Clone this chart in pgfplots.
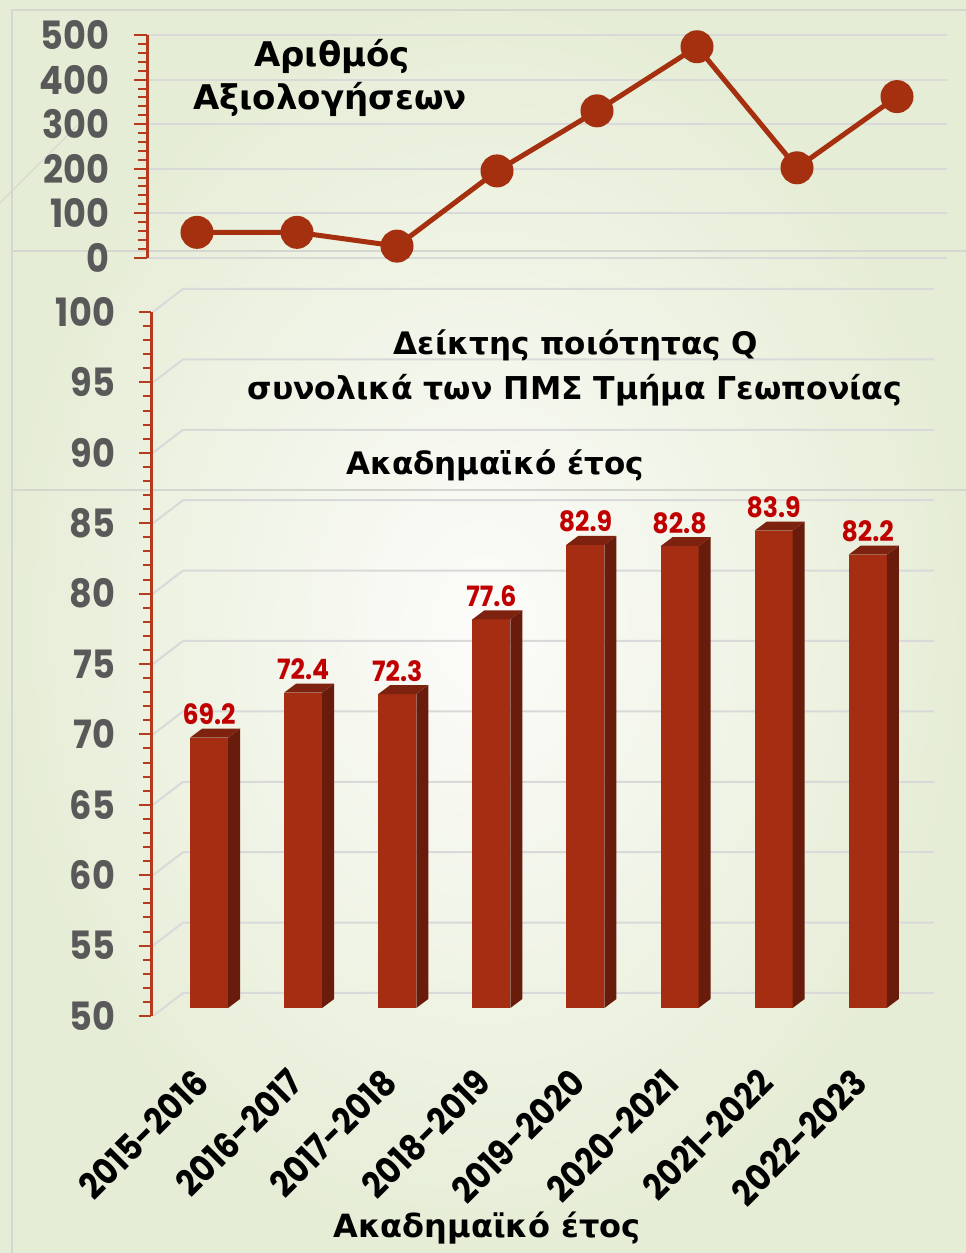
\documentclass[border=0pt]{standalone}
\usepackage{fontspec}
\setmainfont{DejaVu Sans}
\newfontfamily\numfont{Poppins}[FakeStretch=0.9]
\usepackage{pgfplots}
\usepackage{pgfplotstable}
\pgfplotsset{compat=1.18}

\definecolor{lineRed}{HTML}{A5300F}
\definecolor{axisRed}{HTML}{B83A1E}
\definecolor{barFront}{HTML}{A52E12}
\definecolor{barSide}{HTML}{6A1C0C}
\definecolor{barTop}{HTML}{7D220F}
\definecolor{labRed}{HTML}{C00000}
\definecolor{labGray}{HTML}{595959}
\definecolor{gridGray}{HTML}{D9D9D9}
\definecolor{frameGray}{HTML}{D4D6D0}
\definecolor{bgOut}{RGB}{230,237,214}
\definecolor{bgIn}{RGB}{252,252,250}

\newcommand\tickfont{\numfont\bfseries\fontsize{39}{40}\selectfont}
\newcommand\xtickfont{\numfont\bfseries\fontsize{36}{38}\selectfont}
\newcommand\datafont{\numfont\bfseries\fontsize{28}{30}\selectfont}

\pgfplotstableread{
x n
0 57
1 57
2 26
3 195
4 330
5 474
6 202
7 362
}\ndata

\pgfplotstableread{
x v
0 69.2
1 72.4
2 72.3
3 77.6
4 82.9
5 82.8
6 83.9
7 82.2
}\qdata

\begin{document}
\begin{tikzpicture}[x=1pt,y=1pt]
\path[use as bounding box] (0,0) rectangle (966,1253);
\shade[inner color=bgIn, outer color=bgOut] (0,0) rectangle (966,1253);
% slide frame lines
\draw[frameGray, line width=1.5pt] (12,0) -- (12,1243) -- (966,1243);
\draw[frameGray, line width=1.5pt] (12,1002) -- (966,1002);
\draw[frameGray, line width=1.5pt] (12,763) -- (966,763);
\draw[frameGray, line width=1pt] (0,1050) -- (80,1130);

% back-plane gridlines of the 3D bar chart
\foreach \g in {50,55,...,100}{
  \pgfmathsetmacro\gy{237+(\g-50)*14.08}
  \draw[gridGray, line width=2pt] (153,\gy) -- (183,\gy+23) -- (934,\gy+23);
}

% ---------- top: number of evaluations ----------
\begin{axis}[
  at={(147pt,995.3pt)}, anchor=south west,
  scale only axis, width=800pt, height=222.5pt,
  xmin=-0.5, xmax=7.5, ymin=0, ymax=500,
  axis y line*=left, axis x line*=bottom,
  x axis line style={draw=none},
  y axis line style={draw=axisRed, line width=3pt, -},
  xtick=\empty,
  ytick={0,100,...,500}, minor y tick num=4,
  tick align=outside,
  major tick length=13pt, minor tick length=9pt,
  every tick/.style={axisRed, line width=2pt},
  every minor tick/.style={axisRed, line width=2pt},
  ymajorgrids, grid style={gridGray, line width=2pt},
  /pgf/number format/assume math mode=true,
  yticklabel style={font=\tickfont, text=labGray, anchor=east, xshift=-21pt},
  clip=false,
]
\addplot[lineRed, line width=5pt, mark=*, mark size=14pt,
  mark options={draw=none, fill=lineRed}] table[x=x, y=n] {\ndata};
\end{axis}

% ---------- bottom: quality index Q (3D bars) ----------
\begin{axis}[
  at={(151.5pt,237pt)}, anchor=south west,
  scale only axis, width=752.8pt, height=704pt,
  xmin=-0.5, xmax=7.5, ymin=50, ymax=100,
  axis y line*=left, axis x line*=bottom,
  x axis line style={draw=none},
  y axis line style={draw=axisRed, line width=3pt, -},
  xtick={0,...,7},
  xticklabels={2015-2016,2016-2017,2017-2018,2018-2019,2019-2020,2020-2021,2021-2022,2022-2023},
  x tick style={draw=none},
  xticklabel style={font=\xtickfont, text=black, inner sep=0pt, anchor=east, xshift=3pt, yshift=-47pt, rotate=45},
  ytick={50,55,...,100}, minor y tick num=4,
  tick align=outside,
  major tick length=13pt, minor tick length=9pt,
  every y tick/.style={axisRed, line width=2pt},
  every minor y tick/.style={axisRed, line width=2pt},
  /pgf/number format/assume math mode=true,
  yticklabel style={font=\tickfont, text=labGray, anchor=east, xshift=-20pt},
  clip=false,
]
\pgfplotsinvokeforeach{0,...,7}{%
  \pgfplotstablegetelem{#1}{v}\of\qdata
  \pgfmathsetmacro\xl{#1-0.0904}%
  \pgfmathsetmacro\xr{#1+0.3136}%
  \pgfmathsetmacro\xlb{#1+0.0371}%
  \pgfmathsetmacro\xrb{#1+0.4411}%
  \pgfmathsetmacro\yt{\pgfplotsretval+0.568}%
  \pgfmathsetmacro\ytb{\pgfplotsretval+1.207}%
  \edef\barcmd{%
    \noexpand\addplot[draw=none, fill=barFront] coordinates {(\xl,50.568) (\xr,50.568) (\xr,\yt) (\xl,\yt)} -- cycle;
    \noexpand\addplot[draw=none, fill=barSide] coordinates {(\xr,50.568) (\xrb,51.207) (\xrb,\ytb) (\xr,\yt)} -- cycle;
    \noexpand\addplot[draw=none, fill=barTop] coordinates {(\xl,\yt) (\xlb,\ytb) (\xrb,\ytb) (\xr,\yt)} -- cycle;
  }%
  \barcmd
}
\addplot[draw=none, mark=none, nodes near coords, point meta=explicit,
  every node near coord/.append style={font=\datafont, text=labRed, anchor=south}]
  table[x expr=\thisrow{x}+0.1116, y expr=\thisrow{v}+1.207, meta=v] {\qdata};
\end{axis}

% ---------- texts ----------
\node[anchor=base, font=\bfseries\fontsize{34}{36}\selectfont] at (332,1186) {Αριθμός};
\node[anchor=base, font=\bfseries\fontsize{34}{36}\selectfont] at (330,1143) {Αξιολογήσεων};
\node[anchor=base, font=\bfseries\fontsize{31}{34}\selectfont] at (576,898) {Δείκτης ποιότητας Q};
\node[anchor=base, font=\bfseries\fontsize{31.5}{34}\selectfont] at (575,853) {συνολικά των ΠΜΣ Τμήμα Γεωπονίας};
\node[anchor=base, font=\bfseries\fontsize{31}{34}\selectfont] at (495,778) {Ακαδημαϊκό έτος};
\node[anchor=base, font=\bfseries\fontsize{32}{34}\selectfont] at (487,16) {Ακαδημαϊκό έτος};
\end{tikzpicture}
\end{document}
